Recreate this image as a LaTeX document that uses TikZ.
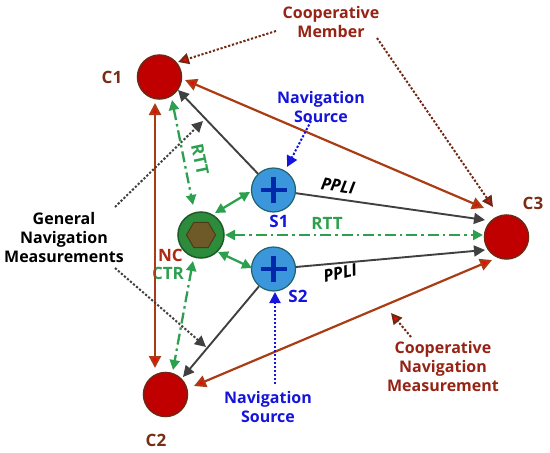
\documentclass[tikz,border=0pt]{standalone}
\usepackage{fontspec}
\setmainfont{Open Sans}
\usetikzlibrary{arrows.meta,calc,shapes.geometric}
\definecolor{cRedFill}{RGB}{192,0,0}
\definecolor{cBrown}{RGB}{110,40,20}
\definecolor{cLbl}{RGB}{120,45,20}
\definecolor{cLine}{RGB}{170,60,20}
\definecolor{cTip}{RGB}{235,10,10}
\definecolor{cGray}{RGB}{64,64,64}
\definecolor{cGreen}{RGB}{45,160,80}
\definecolor{cNC}{RGB}{45,140,60}
\definecolor{cNCb}{RGB}{30,90,40}
\definecolor{cHex}{RGB}{110,90,40}
\definecolor{cHexb}{RGB}{75,60,25}
\definecolor{cSfill}{RGB}{60,150,220}
\definecolor{cSb}{RGB}{30,100,110}
\definecolor{cPlus}{RGB}{0,40,170}
\definecolor{cBlue}{RGB}{20,20,220}
\definecolor{cDRed}{RGB}{150,35,20}
\definecolor{cNCtxt}{RGB}{175,40,20}
\tikzset{
  redtip/.tip={Triangle[length=12pt,width=12pt,fill=cTip]},
  graytip/.tip={Triangle[length=11pt,width=11pt]},
  greentip/.tip={Triangle[length=10pt,width=10pt]},
  member/.style={circle,minimum size=44pt,inner sep=0pt,fill=cRedFill,draw=cBrown,line width=1.5pt},
  srcnode/.style={circle,minimum size=44pt,inner sep=0pt,fill=cSfill,draw=cSb,line width=1.2pt,
    path picture={\draw[cPlus,line width=4.5pt] ($(path picture bounding box.center)+(-13pt,0pt)$) -- ($(path picture bounding box.center)+(13pt,0pt)$);
                  \draw[cPlus,line width=4.5pt] ($(path picture bounding box.center)+(0pt,-13pt)$) -- ($(path picture bounding box.center)+(0pt,13pt)$);}},
  ncnode/.style={circle,minimum size=46pt,inner sep=0pt,fill=cNC,draw=cNCb,line width=1.5pt},
  hexa/.style={regular polygon,regular polygon sides=6,minimum size=29pt,inner sep=0pt,fill=cHex,draw=cHexb,line width=1pt},
  redarr/.style={draw=cLine,line width=2.2pt,{redtip}-{redtip}},
  grayarr/.style={draw=cGray,line width=1.9pt,-{graytip}},
  greenarr/.style={draw=cGreen,line width=2.3pt,{greentip}-{greentip}},
  greendd/.style={draw=cGreen,line width=2.3pt,dash pattern=on 11pt off 4pt on 2.5pt off 4pt,{greentip}-{greentip}},
  dotbrown/.style={draw=cBrown,line width=2pt,dash pattern=on 2.2pt off 1.8pt,-{Triangle[length=11pt,width=11pt,fill=cTip]}},
  dotblue/.style={draw=cBlue,line width=2pt,dash pattern=on 2.2pt off 1.8pt,-{Triangle[length=11pt,width=11pt]}},
  dotblack/.style={draw=cGray,line width=2pt,dash pattern=on 2.2pt off 1.8pt,-{Triangle[length=11pt,width=11pt]}},
  lbl/.style={inner sep=0pt,align=center},
  biglbl/.style={inner sep=0pt,align=center,font=\fontsize{17}{20}\selectfont\bfseries},
}
\begin{document}
\begin{tikzpicture}[x=1pt,y=-1pt,font=\fontsize{16}{19}\selectfont\bfseries]
\useasboundingbox (0,0) rectangle (550,453);
% nodes
\node[member] (C1) at (159.5,77) {};
\node[member] (C2) at (165.5,394.5) {};
\node[member] (C3) at (506.5,237) {};
\node[srcnode] (S1) at (273.5,190) {};
\node[srcnode] (S2) at (273.5,269) {};
\node[ncnode] (NC) at (201,235) {};
\node[hexa] (HX) at (NC) {};
% labels
\node[biglbl,text=cLbl] (L1) at (112,77) {C1};
\node[biglbl,text=cLbl] (L2) at (156,440) {C2};
\node[biglbl,text=cLbl] (L3) at (533,203) {C3};
\node[biglbl,text=cBlue] (LS1) at (279,221) {S1};
\node[biglbl,text=cBlue] (LS2) at (298,296) {S2};
\node[biglbl,text=cNCtxt] (LNC) at (170.5,255) {NC};
\node[biglbl,text=cGreen] (LCTR) at (168,273) {CTR};
\node[biglbl,text=cGreen,rotate=-78] (LRTT1) at (200,160) {RTT};
\node[biglbl,text=cGreen] (LRTT2) at (327,223) {RTT};
\node[biglbl,text=black,rotate=-9] (PP1) at (338,186) {\itshape PPLI};
\node[biglbl,text=black,rotate=13] (PP2) at (340,273) {\itshape PPLI};
\node[lbl,text=cDRed] (CM) at (331,21.5) {Cooperative\\Member};
\node[lbl,text=cBlue] (NS1) at (321,106.5) {Navigation\\Source};
\node[lbl,text=cBlue] (NS2) at (268,407) {Navigation\\Source};
\node[lbl,text=black] (GN) at (64,237) {General\\Navigation\\Measurements};
\node[lbl,text=cDRed] (CNM) at (443,366.5) {Cooperative\\Navigation\\Measurement};
% free ends
\coordinate (cm1) at (276,31);
\coordinate (cm2) at (377,38);
\coordinate (ns1) at (311,121);
\coordinate (ns2) at (275,384);
\coordinate (g1) at (115,207);
\coordinate (g1t) at (203,121);
\coordinate (g2) at (115,268);
\coordinate (g2t) at (206,347);
\coordinate (cn) at (411,337);
\coordinate (cnt) at (391,313);
% red cooperative measurements
\draw[redarr] ($(C1)+(25.5,3)$) -- ($(C3)+(-22.5,-29)$);
\draw[redarr] ($(C1)+(-4.5,26)$) -- ($(C2)+(-10.5,-26.5)$);
\draw[redarr] ($(C2)+(28.5,-8.5)$) -- ($(C3)+(-14.5,23)$);
% gray navigation measurements
\draw[grayarr] (S1) -- ($(C1)+(18.5,13)$);
\draw[grayarr] (S1) -- ($(C3)+(-21.5,-17)$);
\draw[grayarr] (S2) -- ($(C3)+(-21.5,13)$);
\draw[grayarr] (S2) -- ($(C2)+(17.5,-17.5)$);
% green
\draw[greendd] ($(NC)+(24,0)$) -- ($(C3)+(-23.5,-2)$);
\draw[greenarr] ($(NC)+(14,-22)$) -- ($(S1)+(-23.5,2)$);
\draw[greenarr] ($(NC)+(17,17)$) -- ($(S2)+(-21.5,-1)$);
\draw[greendd] ($(C1)+(12.5,23)$) -- ($(NC)+(-8,-30)$);
\draw[greendd] ($(NC)+(-8,26)$) -- ($(C2)+(7.5,-24.5)$);
% dotted pointers
\draw[dotbrown] (cm1) -- ($(C1)+(18.5,-15)$);
\draw[dotbrown] (cm2) -- ($(C3)+(-13.5,-30)$);
\draw[dotblue] (ns1) -- ($(S1)+(13.5,-23)$);
\draw[dotblue] (ns2) -- ($(S2)+(1.5,23)$);
\draw[dotblack] (g1) -- (g1t);
\draw[dotblack] (g2) -- (g2t);
\draw[dotbrown] (cn) -- (cnt);
\end{tikzpicture}
\end{document}
